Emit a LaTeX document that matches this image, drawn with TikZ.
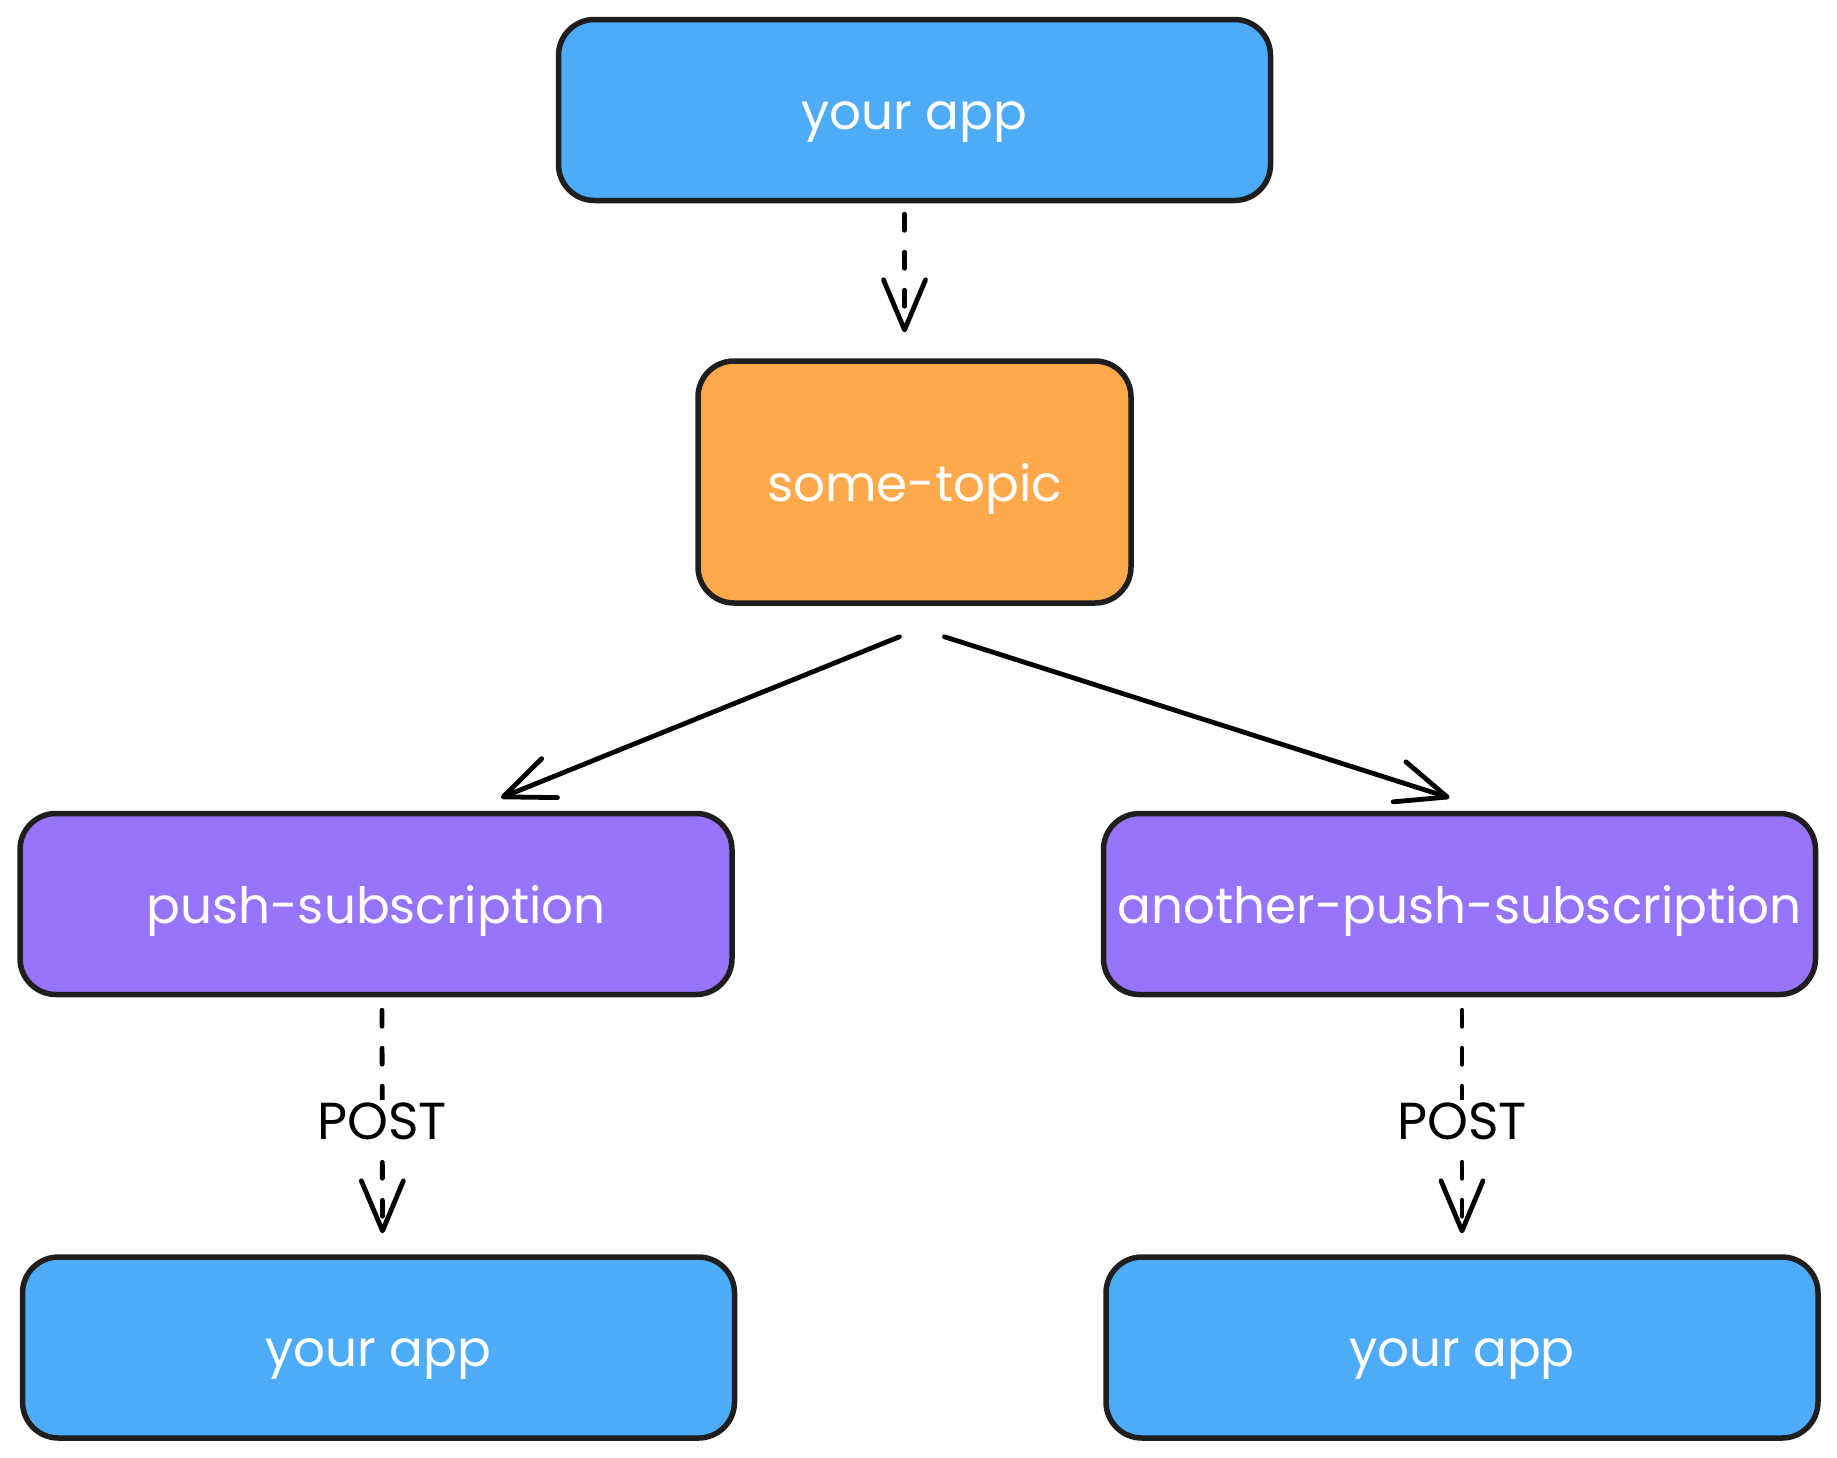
\documentclass[tikz,border=0pt]{standalone}
\usepackage{fontspec}
\setmainfont{Poppins}
\usetikzlibrary{arrows.meta,positioning}
\definecolor{appblue}{HTML}{4DABF7}
\definecolor{topicorange}{HTML}{FFA94D}
\definecolor{subpurple}{HTML}{9775FA}
\definecolor{inkdark}{HTML}{1E1E1E}
\tikzset{
  box/.style={draw=inkdark,line width=5.5pt,rounded corners=36pt,text=white,
              font=\fontsize{50}{60}\selectfont,text height=38pt,text depth=0pt,
              minimum height=181pt,minimum width=712pt},
  app/.style={box,fill=appblue},
  topic/.style={box,fill=topicorange,minimum width=433pt,minimum height=242pt},
  sub/.style={box,fill=subpurple},
  % connectors
  flow/.style={line width=4.8pt,line cap=round,line join=round,
               -{Straight Barb[length=50pt,width=42pt,round]}},
  dashflow/.style={flow,dash pattern=on 16pt off 22pt},
  verb/.style={font=\fontsize{52}{60}\selectfont,fill=white,inner sep=3pt},
}

\begin{document}
\begin{tikzpicture}[x=1pt,y=-1pt]
\useasboundingbox (0,0) rectangle (1837,1457);
\node[app] (app) at (914.5,110) {your app};
\node[topic,below=155pt of app] (topic) {some-topic};
\node[sub] (push) at (376,904) {push-subscription};
\node[sub] (another) at (1459.5,904) {another-push-subscription};
\node[app] (pushapp) at (378.5,1347.5) {your app};
\node[app] (anotherapp) at (1462,1347.5) {your app};
\draw[dashflow] ([xshift=-10pt,yshift=-11pt]app.south) -- ([xshift=-10pt,yshift=26pt]topic.north);
\draw[flow] ([xshift=-15pt,yshift=-31pt]topic.south) -- ([xshift=125pt,yshift=13pt]push.north);
\draw[flow] ([xshift=30pt,yshift=-31pt]topic.south) -- ([xshift=-10pt,yshift=13pt]another.north);
\draw[dashflow] ([xshift=6pt,yshift=-13pt]push.south) -- node[verb]{POST} ([xshift=4pt,yshift=21pt]pushapp.north);
\draw[dashflow] ([xshift=2.5pt,yshift=-13pt]another.south) -- node[verb]{POST} ([yshift=21pt]anotherapp.north);
\end{tikzpicture}
\end{document}
